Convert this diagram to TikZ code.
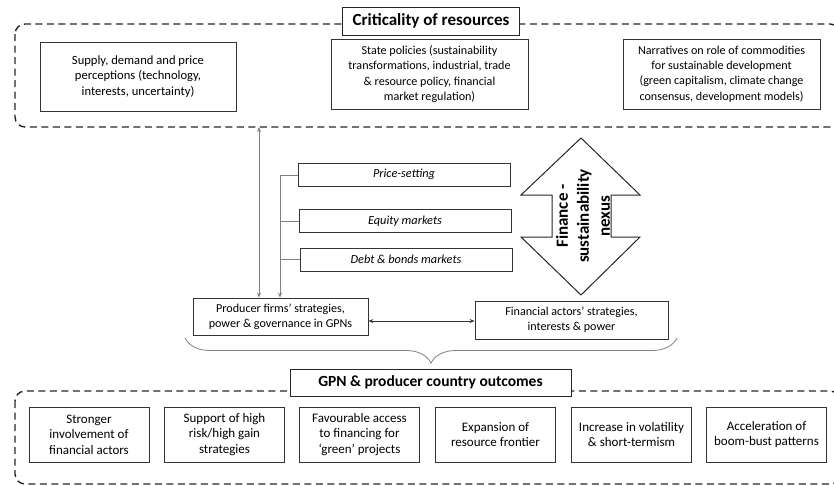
\documentclass[tikz,border=0pt]{standalone}
\usepackage{fontspec}
\setmainfont{Carlito}
\usepackage{tikz}
\usetikzlibrary{arrows.meta,calc,decorations.pathreplacing}

\tikzset{
    box/.style={draw=black!80, line width=0.8pt, fill=white, align=center,
        font=\fontsize{12.1}{15.3}\selectfont, inner sep=0pt},
    titlebox/.style={draw=black!85, line width=0.9pt, fill=white, inner sep=0pt,
        font=\fontsize{15.5}{18}\selectfont\bfseries},
    marketbox/.style={box, minimum width=212pt, minimum height=23pt,
        font=\fontsize{12.3}{14}\selectfont\itshape},
    outbox/.style={box, minimum width=120pt, minimum height=55pt,
        font=\fontsize{13}{15.5}\selectfont},
    region/.style={draw=black!85, line width=1.4pt, dash pattern=on 7pt off 4.5pt,
        rounded corners=10pt},
    link/.style={draw=black!50, line width=0.8pt},
}

\begin{document}
\begin{tikzpicture}[x=1pt, y=-1pt, >={Stealth[length=5pt,width=4pt]}]
    \useasboundingbox (0,0) rectangle (834,485);

    % Criticality of resources
    \draw[region] (15,24) rectangle (840,127);
    \node[titlebox, minimum width=177pt, minimum height=28pt, font=\fontsize{17}{20}\selectfont\bfseries] (crit) at (431,21) {Criticality of resources};
    \node[box, minimum width=196pt, minimum height=69pt, font=\fontsize{12.6}{15.3}\selectfont] (supply) at (138,76.5)
        {Supply, demand and price\\perceptions (technology,\\interests, uncertainty)};
    \node[box, minimum width=197pt, minimum height=70pt] (policy) at (429.5,74)
        {State policies (sustainability\\transformations, industrial, trade\\\& resource policy, financial\\market regulation)};
    \node[box, minimum width=197pt, minimum height=70pt] (narr) at (721.5,74)
        {Narratives on role of commodities\\for sustainable development\\(green capitalism, climate change\\consensus, development models)};

    % Markets
    \node[marketbox] (price) at (404,174.5) {Price-setting};
    \node[marketbox] (equity) at (405,221) {Equity markets};
    \node[marketbox] (debt) at (406,259.5) {Debt \& bonds markets};

    % Actors
    \node[box, minimum width=175pt, minimum height=37pt] (producer) at (280.5,316.5)
        {Producer firms’ strategies,\\power \& governance in GPNs};
    \node[box, minimum width=193pt, minimum height=38pt] (financial) at (571.5,320)
        {Financial actors’ strategies,\\interests \& power};

    % Finance-sustainability nexus
    \draw[black!85, line width=1pt, fill=white]
        (581,138) -- (640,195) -- (611,195) -- (611,237) -- (640,237) -- (581,295)
        -- (521,237) -- (552,237) -- (552,195) -- (521,195) -- cycle;
    \node[rotate=90, align=center, font=\fontsize{17}{21}\selectfont\bfseries] (nexus) at (583,216)
        {Finance -\\sustainability\\nexus};

    % Connectors
    \coordinate (critfoot) at (259,127);
    \coordinate (bus) at (280,175);
    \draw[link, <->] (critfoot) -- (critfoot |- producer.north);
    \draw[link, ->] (bus) -- (bus |- producer.north);
    \draw[link] (bus) -- (bus -| price.west);
    \draw[link] (bus |- equity.west) -- (equity.west);
    \draw[link] (bus |- debt.west) -- (debt.west);
    \draw[<->, black!80, line width=0.8pt] (producer.east |- 0,321) -- (financial.west |- 0,321);

    % Brace
    \draw[link, decorate, decoration={brace, amplitude=25pt}] (677,338) -- (185,338);

    % GPN & producer country outcomes
    \draw[region] (15,391) rectangle (840,484);
    \node[titlebox, minimum width=281pt, minimum height=27pt] (gpn) at (430.5,382.5) {GPN \& producer country outcomes};
    \node[outbox] (out1) at (89,434.5) {Stronger\\involvement of\\financial actors};
    \node[outbox] (out2) at (224.5,434.5) {Support of high\\risk/high gain\\strategies};
    \node[outbox] (out3) at (359.5,434.5) {Favourable access\\to financing for\\‘green’ projects};
    \node[outbox] (out4) at (495.5,434.5) {Expansion of\\resource frontier};
    \node[outbox] (out5) at (631.5,434.5) {Increase in volatility\\\& short-termism};
    \node[outbox] (out6) at (766.5,434.5) {Acceleration of\\boom-bust patterns};
\end{tikzpicture}
\end{document}
